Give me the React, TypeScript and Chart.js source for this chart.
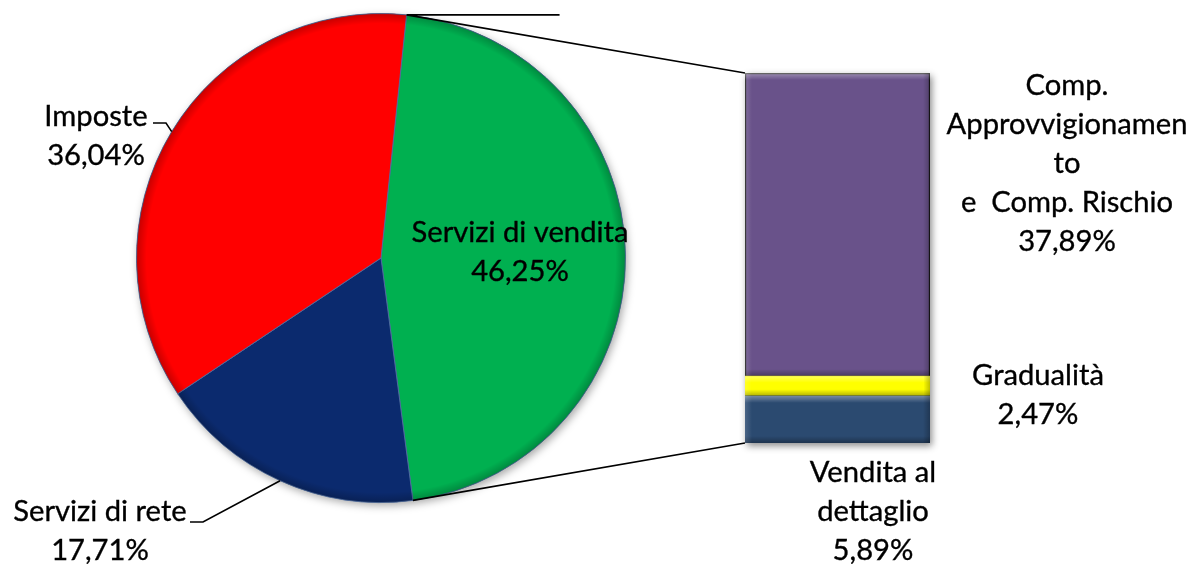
import React, { useEffect, useRef } from "react";
import { Chart, registerables } from "chart.js";
Chart.register(...registerables);

// ---- data ----
const pieLabels = ["Servizi di vendita", "Servizi di rete", "Imposte"];
const pieValues = [46.25, 17.71, 36.04];
const pieColors = ["#00B050", "#0B2A6E", "#FF0000"];

const barLabels = ["Vendita al dettaglio", "Gradualità", "Comp. Approvvigionamento e Comp. Rischio"];
const barValues = [5.89, 2.47, 37.89];
const barColors = ["#2B4A70", "#FFFF00", "#69528A"];

// label text lines (name part, percentage appended from values)
const pieLabelText = [["Servizi di vendita"], ["Servizi di rete"], ["Imposte"]];
const barLabelText = [["Vendita al", "dettaglio"], ["Gradualità"], ["Comp.", "Approvvigionamen", "to", "e  Comp. Rischio"]];

// ---- style / layout ----
const W = 1195;
const H = 564;
const FONT_FAMILY = "Lato, 'Open Sans', sans-serif";
const LINE_H = 39;
const pieLabelPos = [
  { cx: 520, baseline: 242, leader: false },
  { cx: 100, baseline: 521, leader: true, lx0: 190, lx1: 203, ly: 522 },
  { cx: 96, baseline: 126, leader: true, lx0: 153, lx1: 166, ly: 123 },
];
const barLabelPos = [
  { cx: 873, baseline: 482 },
  { cx: 1038, baseline: 385 },
  { cx: 1067, baseline: 95 },
];

const fmt = (v: number) => v.toFixed(2).replace(".", ",") + "%";

let fontSizeCache = 0;
function fontSize(ctx: CanvasRenderingContext2D) {
  if (fontSizeCache) return fontSizeCache;
  ctx.save();
  ctx.font = `32px ${FONT_FAMILY}`;
  const w = ctx.measureText("Servizi di vendita").width;
  ctx.restore();
  fontSizeCache = Math.max(20, Math.min(34, (32 * 217) / w));
  return fontSizeCache;
}

function drawLines(ctx: CanvasRenderingContext2D, lines: string[], cx: number, baseline: number) {
  ctx.save();
  ctx.font = `${fontSize(ctx)}px ${FONT_FAMILY}`;
  ctx.fillStyle = "#000";
  ctx.strokeStyle = "#000";
  ctx.lineWidth = 0.35;
  ctx.textAlign = "center";
  ctx.textBaseline = "alphabetic";
  lines.forEach((t, i) => {
    ctx.fillText(t, cx, baseline + i * LINE_H);
    ctx.strokeText(t, cx, baseline + i * LINE_H);
  });
  ctx.restore();
}

export default function App() {
  const pieRef = useRef<HTMLCanvasElement>(null);
  const barRef = useRef<HTMLCanvasElement>(null);

  useEffect(() => {
    let pieChart: any = null;

    const pieDecor = {
      id: "pieDecor",
      beforeDatasetsDraw(chart: any) {
        const arc = chart.getDatasetMeta(0).data[0];
        const ctx = chart.ctx;
        ctx.save();
        ctx.shadowColor = "rgba(0,0,0,0.35)";
        ctx.shadowBlur = 8;
        ctx.shadowOffsetX = 2;
        ctx.shadowOffsetY = 3;
        ctx.beginPath();
        ctx.arc(arc.x, arc.y, arc.outerRadius, 0, Math.PI * 2);
        ctx.fillStyle = "#888";
        ctx.fill();
        ctx.restore();
      },
      afterDatasetsDraw(chart: any) {
        const meta = chart.getDatasetMeta(0);
        const ctx = chart.ctx;
        const a0 = meta.data[0];
        // bevel: darker outer ring
        ctx.save();
        const g = ctx.createRadialGradient(a0.x, a0.y, a0.outerRadius - 10, a0.x, a0.y, a0.outerRadius);
        g.addColorStop(0, "rgba(0,0,0,0)");
        g.addColorStop(1, "rgba(0,0,0,0.22)");
        ctx.beginPath();
        ctx.arc(a0.x, a0.y, a0.outerRadius, 0, Math.PI * 2);
        ctx.fillStyle = g;
        ctx.fill();
        ctx.restore();

        // labels
        meta.data.forEach((arc: any, i: number) => {
          const p = pieLabelPos[i];
          drawLines(ctx, [...pieLabelText[i], fmt(pieValues[i])], p.cx, p.baseline);
          if (p.leader) {
            const mid = (arc.startAngle + arc.endAngle) / 2;
            const ex = arc.x + arc.outerRadius * Math.cos(mid);
            const ey = arc.y + arc.outerRadius * Math.sin(mid);
            ctx.save();
            ctx.strokeStyle = "#000";
            ctx.lineWidth = 1.6;
            ctx.beginPath();
            ctx.moveTo(p.lx0, p.ly);
            ctx.lineTo(p.lx1, p.ly);
            ctx.lineTo(ex, ey);
            ctx.stroke();
            ctx.restore();
          }
        });
      },
    };

    pieChart = new Chart(pieRef.current!, {
      type: "pie",
      data: {
        labels: pieLabels,
        datasets: [
          {
            data: pieValues,
            backgroundColor: pieColors,
            borderColor: "rgba(80,110,160,0.9)",
            borderWidth: 1,
          },
        ],
      },
      options: {
        responsive: false,
        animation: false,
        rotation: 6,
        layout: { padding: { left: 136, top: 13, right: W - 626, bottom: H - 503 } },
        plugins: { legend: { display: false }, tooltip: { enabled: false } },
      },
      plugins: [pieDecor],
    });

    const barDecor = {
      id: "barDecor",
      beforeDatasetsDraw(chart: any) {
        const ctx = chart.ctx;
        const bottomEl = chart.getDatasetMeta(0).data[0];
        const topEl = chart.getDatasetMeta(barValues.length - 1).data[0];
        const left = bottomEl.x - bottomEl.width / 2;
        const right = bottomEl.x + bottomEl.width / 2;
        ctx.save();
        ctx.shadowColor = "rgba(0,0,0,0.45)";
        ctx.shadowBlur = 7;
        ctx.shadowOffsetX = 2;
        ctx.shadowOffsetY = 3;
        ctx.fillStyle = "#444";
        ctx.fillRect(left, topEl.y, right - left, bottomEl.base - topEl.y);
        ctx.restore();
      },
      afterDatasetsDraw(chart: any) {
        const ctx = chart.ctx;
        barValues.forEach((v, i) => {
          const el = chart.getDatasetMeta(i).data[0];
          const left = el.x - el.width / 2;
          const right = el.x + el.width / 2;
          const top = Math.min(el.y, el.base);
          const bottom = Math.max(el.y, el.base);
          const b = Math.min(7, (bottom - top) / 3);
          ctx.save();
          let g = ctx.createLinearGradient(0, top, 0, top + b);
          g.addColorStop(0, "rgba(255,255,255,0.35)");
          g.addColorStop(1, "rgba(255,255,255,0)");
          ctx.fillStyle = g;
          ctx.fillRect(left, top, right - left, b);
          g = ctx.createLinearGradient(0, bottom - b, 0, bottom);
          g.addColorStop(0, "rgba(0,0,0,0)");
          g.addColorStop(1, "rgba(0,0,0,0.3)");
          ctx.fillStyle = g;
          ctx.fillRect(left, bottom - b, right - left, b);
          g = ctx.createLinearGradient(left, 0, left + b, 0);
          g.addColorStop(0, "rgba(255,255,255,0.15)");
          g.addColorStop(1, "rgba(255,255,255,0)");
          ctx.fillStyle = g;
          ctx.fillRect(left, top, b, bottom - top);
          g = ctx.createLinearGradient(right - b, 0, right, 0);
          g.addColorStop(0, "rgba(0,0,0,0)");
          g.addColorStop(1, "rgba(0,0,0,0.25)");
          ctx.fillStyle = g;
          ctx.fillRect(right - b, top, b, bottom - top);
          ctx.restore();

          const p = barLabelPos[i];
          drawLines(ctx, [...barLabelText[i], fmt(v)], p.cx, p.baseline);
        });

        // connector (series) lines from the pie's "Servizi di vendita" slice to the bar
        if (pieChart) {
          const arc = pieChart.getDatasetMeta(0).data[0];
          const sx = arc.x + arc.outerRadius * Math.cos(arc.startAngle);
          const sy = arc.y + arc.outerRadius * Math.sin(arc.startAngle);
          const ex = arc.x + arc.outerRadius * Math.cos(arc.endAngle);
          const ey = arc.y + arc.outerRadius * Math.sin(arc.endAngle);
          const bottomEl = chart.getDatasetMeta(0).data[0];
          const topEl = chart.getDatasetMeta(barValues.length - 1).data[0];
          const left = bottomEl.x - bottomEl.width / 2;
          ctx.save();
          ctx.strokeStyle = "#000";
          ctx.lineWidth = 1.6;
          ctx.beginPath();
          ctx.moveTo(sx, sy);
          ctx.lineTo(sx + 153, sy);
          ctx.moveTo(sx, sy);
          ctx.lineTo(left, topEl.y);
          ctx.moveTo(ex, ey);
          ctx.lineTo(left, bottomEl.base);
          ctx.stroke();
          ctx.restore();
        }
      },
    };

    const total = barValues.reduce((a, b) => a + b, 0);
    const barChart = new Chart(barRef.current!, {
      type: "bar",
      data: {
        labels: ["Servizi di vendita"],
        datasets: barValues.map((v, i) => ({
          label: barLabels[i],
          data: [v],
          backgroundColor: barColors[i],
          borderColor: i === barValues.length - 1 ? "#1a1a1a" : barColors[i],
          borderWidth: i === barValues.length - 1 ? 1.5 : 0,
          barPercentage: 1,
          categoryPercentage: 1,
        })),
      },
      options: {
        responsive: false,
        animation: false,
        layout: { padding: { left: 745, right: W - 930, top: 73, bottom: H - 443 } },
        scales: {
          x: { stacked: true, display: false },
          y: { stacked: true, display: false, min: 0, max: total },
        },
        plugins: { legend: { display: false }, tooltip: { enabled: false } },
      },
      plugins: [barDecor],
    });

    return () => {
      barChart.destroy();
      pieChart.destroy();
    };
  }, []);

  return (
    <div style={{ position: "absolute", left: 0, top: 0, width: W, height: H, background: "#fff" }}>
      <canvas ref={pieRef} width={W} height={H} style={{ position: "absolute", left: 0, top: 0 }} />
      <canvas ref={barRef} width={W} height={H} style={{ position: "absolute", left: 0, top: 0 }} />
    </div>
  );
}
